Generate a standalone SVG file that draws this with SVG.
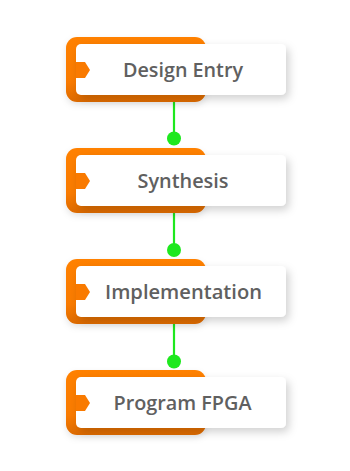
<svg xmlns="http://www.w3.org/2000/svg" width="350" height="471" viewBox="0 0 350 471">
<defs>
<linearGradient id="og" x1="0" y1="0" x2="0" y2="1">
<stop offset="0" stop-color="#ff8100"/>
<stop offset="0.7" stop-color="#f97a00"/>
<stop offset="1" stop-color="#dc6a00"/>
</linearGradient>
<filter id="sh" x="-20%" y="-30%" width="150%" height="180%">
<feDropShadow dx="3" dy="4" stdDeviation="4" flood-color="#000" flood-opacity="0.18"/>
</filter>
<filter id="sh2" x="-20%" y="-30%" width="150%" height="180%">
<feDropShadow dx="0" dy="3" stdDeviation="3" flood-color="#000" flood-opacity="0.1"/>
</filter>
</defs>
<style>
.org{fill:url(#og);filter:url(#sh2)}
.wht{fill:#ffffff;filter:url(#sh)}
.notch{fill:#f97a00}
.lbl{font-family:"Open Sans","Noto Sans","Liberation Sans",sans-serif;font-weight:600;font-size:19px;fill:#606060;text-anchor:middle}
.ln{stroke:#1ee81e;stroke-width:2.2}
.dot{fill:#1ee81e}
</style>
<g id="connectors">
<line class="ln" x1="174" y1="100" x2="174" y2="138"/>
<circle class="dot" cx="174" cy="138.5" r="7"/>
<line class="ln" x1="174" y1="211" x2="174" y2="250"/>
<circle class="dot" cx="174" cy="250" r="7"/>
<line class="ln" x1="174" y1="322" x2="174" y2="361"/>
<circle class="dot" cx="174" cy="361.5" r="7"/>
</g>
<g id="design-entry">
<rect class="org" x="66" y="37" width="140" height="65" rx="11"/>
<rect class="wht" x="76" y="44" width="210" height="51" rx="5"/>
<polygon class="notch" points="76,62 85,62 90,70 85,78 76,78"/>
<text class="lbl" x="183" y="77" textLength="120" lengthAdjust="spacingAndGlyphs">Design Entry</text>
</g>
<g id="synthesis" transform="translate(0,111)">
<rect class="org" x="66" y="37" width="140" height="65" rx="11"/>
<rect class="wht" x="76" y="44" width="210" height="51" rx="5"/>
<polygon class="notch" points="76,62 85,62 90,70 85,78 76,78"/>
<text class="lbl" x="183" y="77" textLength="91" lengthAdjust="spacingAndGlyphs">Synthesis</text>
</g>
<g id="implementation" transform="translate(0,222)">
<rect class="org" x="66" y="37" width="140" height="65" rx="11"/>
<rect class="wht" x="76" y="44" width="210" height="51" rx="5"/>
<polygon class="notch" points="76,62 85,62 90,70 85,78 76,78"/>
<text class="lbl" x="183.5" y="77" textLength="157" lengthAdjust="spacingAndGlyphs">Implementation</text>
</g>
<g id="program-fpga" transform="translate(0,333)">
<rect class="org" x="66" y="37" width="140" height="65" rx="11"/>
<rect class="wht" x="76" y="44" width="210" height="51" rx="5"/>
<polygon class="notch" points="76,62 85,62 90,70 85,78 76,78"/>
<text class="lbl" x="182.5" y="77" textLength="138" lengthAdjust="spacingAndGlyphs">Program FPGA</text>
</g>
</svg>
